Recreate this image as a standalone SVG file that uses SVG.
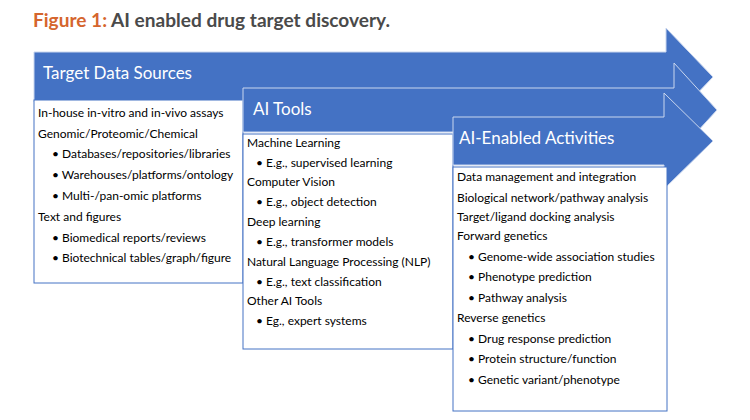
<svg xmlns="http://www.w3.org/2000/svg" width="750" height="420" viewBox="0 0 750 420">
<style>
.arrow{fill:#4472C4;stroke:#C9D6EE;stroke-width:1}
.box{fill:#FFFFFF;stroke:#4472C4;stroke-width:1}
.hd{font-family:Lato,"Liberation Sans",sans-serif;font-size:17px;fill:#FFFFFF}
.tx{font-family:Lato,"Liberation Sans",sans-serif;font-size:12px;fill:#000000}
.title{font-family:Lato,"Liberation Sans",sans-serif;font-size:19px;font-weight:bold;fill:#4A4A4A}
</style>
<rect width="750" height="420" fill="#FFFFFF"/>
<text class="title" x="33" y="27" textLength="357" lengthAdjust="spacingAndGlyphs"><tspan fill="#D5652D">Figure 1:</tspan> AI enabled drug target discovery.</text>
<g id="target-data-sources">
<path class="arrow" d="M34,52 L666,52 L666,28 L713,77 L666,126 L666,102 L34,102 Z"/>
<text class="hd" x="43" y="79">Target Data Sources</text>
<rect class="box" x="34" y="100" width="209" height="183"/>
<text class="tx" x="38" y="117">In-house in-vitro and in-vivo assays</text>
<text class="tx" x="38" y="138">Genomic/Proteomic/Chemical</text>
<text class="tx" x="52" y="158">• Databases/repositories/libraries</text>
<text class="tx" x="52" y="179">• Warehouses/platforms/ontology</text>
<text class="tx" x="52" y="200">• Multi-/pan-omic platforms</text>
<text class="tx" x="38" y="221">Text and figures</text>
<text class="tx" x="52" y="242">• Biomedical reports/reviews</text>
<text class="tx" x="52" y="262">• Biotechnical tables/graph/figure</text>
</g>
<g id="ai-tools">
<path class="arrow" d="M243,88 L674,88 L674,63 L717,110 L674,157 L674,132 L243,132 Z"/>
<text class="hd" x="253" y="115">AI Tools</text>
<rect class="box" x="243" y="134" width="210" height="215"/>
<text class="tx" x="247" y="147">Machine Learning</text>
<text class="tx" x="256" y="167">• E.g., supervised learning</text>
<text class="tx" x="247" y="186">Computer Vision</text>
<text class="tx" x="256" y="206">• E.g., object detection</text>
<text class="tx" x="247" y="226">Deep learning</text>
<text class="tx" x="256" y="246">• E.g., transformer models</text>
<text class="tx" x="247" y="266">Natural Language Processing (NLP)</text>
<text class="tx" x="256" y="286">• E.g., text classification</text>
<text class="tx" x="247" y="305">Other AI Tools</text>
<text class="tx" x="256" y="325">• Eg., expert systems</text>
</g>
<g id="ai-enabled-activities">
<path class="arrow" d="M453,117 L664,117 L664,93 L713,141 L664,189 L664,165 L453,165 Z"/>
<text class="hd" x="459" y="144">AI-Enabled Activities</text>
<rect class="box" x="453" y="167" width="214" height="244"/>
<text class="tx" x="457" y="181">Data management and integration</text>
<text class="tx" x="457" y="202">Biological network/pathway analysis</text>
<text class="tx" x="457" y="221">Target/ligand docking analysis</text>
<text class="tx" x="457" y="240">Forward genetics</text>
<text class="tx" x="468" y="261">• Genome-wide association studies</text>
<text class="tx" x="468" y="281">• Phenotype prediction</text>
<text class="tx" x="468" y="302">• Pathway analysis</text>
<text class="tx" x="457" y="322">Reverse genetics</text>
<text class="tx" x="468" y="343">• Drug response prediction</text>
<text class="tx" x="468" y="363">• Protein structure/function</text>
<text class="tx" x="468" y="384">• Genetic variant/phenotype</text>
</g>
<g id="connectors"></g>
</svg>
